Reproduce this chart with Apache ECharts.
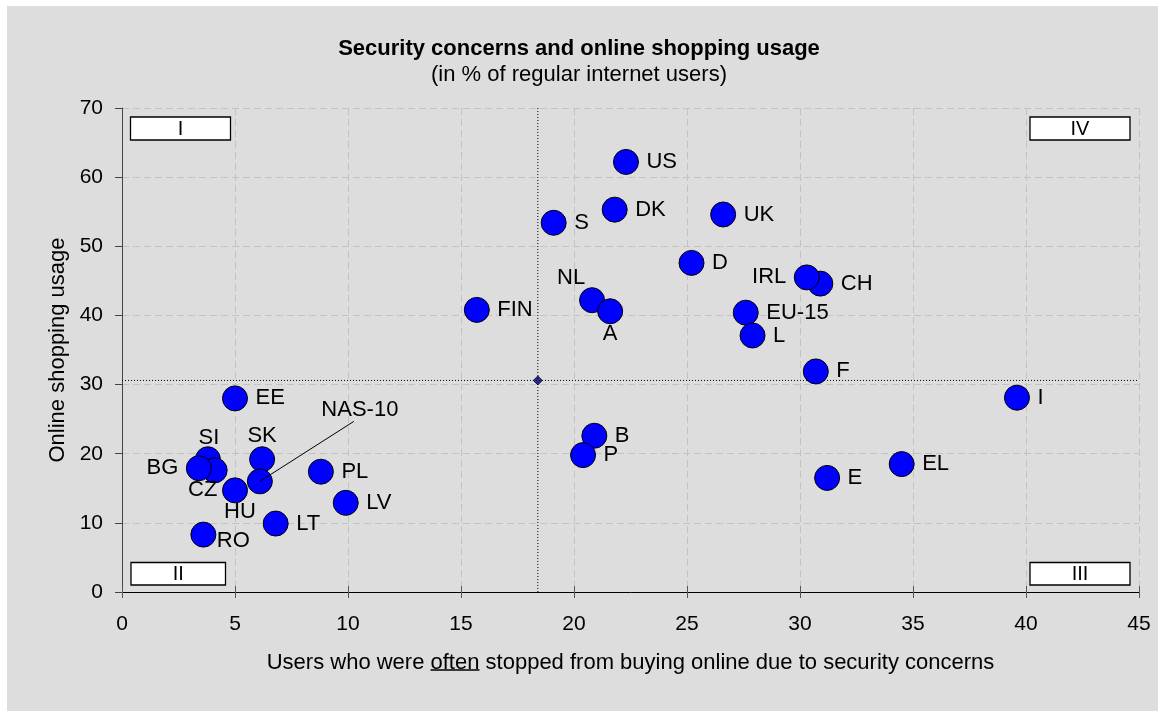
<!DOCTYPE html>
<html>
<head>
<meta charset="utf-8">
<script src="https://cdn.jsdelivr.net/npm/echarts@6/dist/echarts.min.js"></script>
<style>
  html, body { margin: 0; padding: 0; background: #ffffff; }
  #frame { position: absolute; left: 7px; top: 6px; right: 0; bottom: 0; background: #dddddd; }
  #chart { position: absolute; left: 0; top: 0; width: 1158px; height: 711px; }
</style>
</head>
<body>
<div id="frame"></div>
<div id="chart"></div>
<script>
// Country codes, share of users often stopped by security concerns (x), online shopping usage (y)
const countries = ['US', 'DK', 'S', 'UK', 'D', 'FIN', 'CH', 'IRL', 'NL', 'A', 'EU-15', 'L', 'F', 'I', 'EL', 'E',
  'B', 'P', 'EE', 'SI', 'CZ', 'BG', 'HU', 'SK', 'NAS-10', 'PL', 'LV', 'LT', 'RO'];
const stoppedOften = [22.3, 21.8, 19.1, 26.6, 25.2, 15.7, 30.9, 30.3, 20.8, 21.6, 27.6, 27.9, 30.7, 39.6, 34.5, 31.2,
  20.9, 20.4, 5.0, 3.8, 4.1, 3.4, 5.0, 6.2, 6.1, 8.8, 9.9, 6.8, 3.6];
const shoppingUsage = [62.2, 55.3, 53.4, 54.6, 47.6, 40.8, 44.6, 45.5, 42.2, 40.6, 40.4, 37.1, 31.9, 28.1, 18.5, 16.5,
  22.6, 19.8, 28.0, 19.2, 17.6, 17.9, 14.7, 19.2, 16.0, 17.4, 12.9, 9.9, 8.3];

// Average point where the quadrant dividers cross
const dividerPoint = [18.4, 30.6];

// Axis ranges and tick steps
const xRange = [0, 45];
const xStep = 5;
const yRange = [0, 70];
const yStep = 10;

// Quadrant tags
const quadrantTags = ['I', 'II', 'III', 'IV'];

const FONT = '"Liberation Sans", Arial, Helvetica, sans-serif';
const X_NAME_GAP = 60;

// Label placement: most labels sit to the right of their marker
const labelLeft = ['IRL', 'BG'];
const labelOffsets = {
  'NL': [-21, -22], 'A': [0, 23], 'SI': [1, -21], 'SK': [0, -23],
  'CZ': [-12, 20], 'HU': [5, 22], 'RO': [30, 6], 'NAS-10': [100, -71]
};

const points = countries.map((c, i) => {
  const item = { name: c, value: [stoppedOften[i], shoppingUsage[i]] };
  if (labelOffsets[c]) {
    item.label = { position: 'inside', align: 'center', verticalAlign: 'middle', offset: labelOffsets[c] };
  } else if (labelLeft.includes(c)) {
    item.label = { position: 'left' };
  }
  return item;
});

const chart = echarts.init(document.getElementById('chart'), null, { renderer: 'canvas', width: 1158, height: 711 });

const gridBox = { left: 122, top: 108, width: 1017, height: 484 };

const splitStyle = { show: true, lineStyle: { color: '#c3c3c3', type: [7, 4], width: 1 } };

chart.setOption({
  animation: false,
  backgroundColor: 'transparent',
  textStyle: { fontFamily: FONT, color: '#000' },
  title: {
    text: 'Security concerns and online shopping usage',
    subtext: '(in % of regular internet users)',
    left: 'center',
    top: 33,
    itemGap: 4,
    textStyle: { fontFamily: FONT, fontSize: 22, fontWeight: 'bold', color: '#000' },
    subtextStyle: { fontFamily: FONT, fontSize: 22, color: '#000' }
  },
  grid: Object.assign({}, gridBox),
  xAxis: [{
    type: 'value',
    min: xRange[0], max: xRange[1], interval: xStep,
    name: 'Users who were often stopped from buying online due to security concerns',
    nameLocation: 'middle',
    nameGap: X_NAME_GAP,
    nameTextStyle: { fontFamily: FONT, fontSize: 22, color: '#000' },
    axisLine: { show: true, onZero: false, lineStyle: { color: '#000', width: 1 } },
    axisTick: { show: true, length: 6, lineStyle: { color: '#555' } },
    axisLabel: { fontFamily: FONT, fontSize: 21, color: '#000', margin: 22 },
    splitLine: splitStyle
  }, {
    // inner half of the crossing x ticks
    type: 'value',
    position: 'bottom',
    min: xRange[0], max: xRange[1], interval: xStep,
    axisLine: { show: false },
    axisTick: { show: true, inside: true, length: 6, lineStyle: { color: '#555' } },
    axisLabel: { show: false },
    splitLine: { show: false }
  }],
  yAxis: {
    type: 'value',
    min: yRange[0], max: yRange[1], interval: yStep,
    name: 'Online shopping usage',
    nameLocation: 'middle',
    nameRotate: 90,
    nameGap: 52,
    nameTextStyle: { fontFamily: FONT, fontSize: 22, color: '#000' },
    axisLine: { show: true, onZero: false, lineStyle: { color: '#444', width: 1 } },
    axisTick: { show: true, length: 7, lineStyle: { color: '#444' } },
    axisLabel: { fontFamily: FONT, fontSize: 21, color: '#000', margin: 19 },
    splitLine: splitStyle
  },
  series: [
    {
      // dotted quadrant dividers
      type: 'line',
      z: 1,
      symbol: 'none',
      silent: true,
      lineStyle: { color: '#000', width: 1, type: [1, 2] },
      data: [[dividerPoint[0], yRange[0]], [dividerPoint[0], yRange[1]], null, [xRange[0], dividerPoint[1]], [xRange[1], dividerPoint[1]]],
      connectNulls: false
    },
    {
      type: 'scatter',
      z: 3,
      symbol: 'circle',
      symbolSize: 25,
      itemStyle: { color: '#0000ff', borderColor: '#000', borderWidth: 1, opacity: 1 },
      label: {
        show: true,
        position: 'right',
        distance: 7.5,
        formatter: '{b}',
        fontFamily: FONT,
        fontSize: 22,
        color: '#000'
      },
      data: points
    },
    {
      type: 'scatter',
      z: 4,
      symbol: 'diamond',
      symbolSize: 9,
      itemStyle: { color: '#000080', borderColor: '#000', borderWidth: 1 },
      data: [dividerPoint]
    }
  ]
});

// Quadrant tags in the plot corners and the NAS-10 pointer
function px(v) { return chart.convertToPixel({ gridIndex: 0 }, v); }
const tl = px([xRange[0], yRange[1]]);
const br = px([xRange[1], yRange[0]]);

function tagBox(label, x, y, w, h) {
  return {
    type: 'group', x: x, y: y, z: 50,
    children: [
      { type: 'rect', shape: { x: 0, y: 0, width: w, height: h }, style: { fill: '#fff', stroke: '#000', lineWidth: 1.3 } },
      { type: 'text', style: { text: label, x: w / 2, y: h / 2 + 1, align: 'center', verticalAlign: 'middle', font: '20px ' + FONT, fill: '#000' } }
    ]
  };
}

const nas = countries.indexOf('NAS-10');
const nasPx = px([stoppedOften[nas], shoppingUsage[nas]]);

chart.setOption({
  graphic: [
    tagBox(quadrantTags[0], tl[0] + 8.5, tl[1] + 9, 100, 23),
    tagBox(quadrantTags[3], br[0] - 109, tl[1] + 9, 100, 23),
    tagBox(quadrantTags[1], tl[0] + 9, br[1] - 29.5, 94.5, 22.5),
    tagBox(quadrantTags[2], br[0] - 109, br[1] - 29.5, 100, 22.5),
    {
      type: 'line', z: 60, silent: true,
      shape: { x1: nasPx[0], y1: nasPx[1], x2: nasPx[0] + 94, y2: nasPx[1] - 60 },
      style: { stroke: '#000', lineWidth: 1 }
    }
  ]
});

// underline under "often" in the x-axis title
(function () {
  const ctx = document.createElement('canvas').getContext('2d');
  ctx.font = '22px ' + FONT;
  const full = 'Users who were often stopped from buying online due to security concerns';
  const pre = 'Users who were ';
  const wFull = ctx.measureText(full).width;
  const wPre = ctx.measureText(pre).width;
  const wWord = ctx.measureText('often').width;
  const cx = tl[0] + (br[0] - tl[0]) / 2;
  const x0 = cx - wFull / 2 + wPre;
  const yLine = br[1] + X_NAME_GAP + 18;
  chart.setOption({
    graphic: [{
      type: 'line', id: 'often-underline', silent: true,
      shape: { x1: x0, y1: yLine, x2: x0 + wWord, y2: yLine },
      style: { stroke: '#000', lineWidth: 1.3 }
    }]
  });
})();
</script>
</body>
</html>
